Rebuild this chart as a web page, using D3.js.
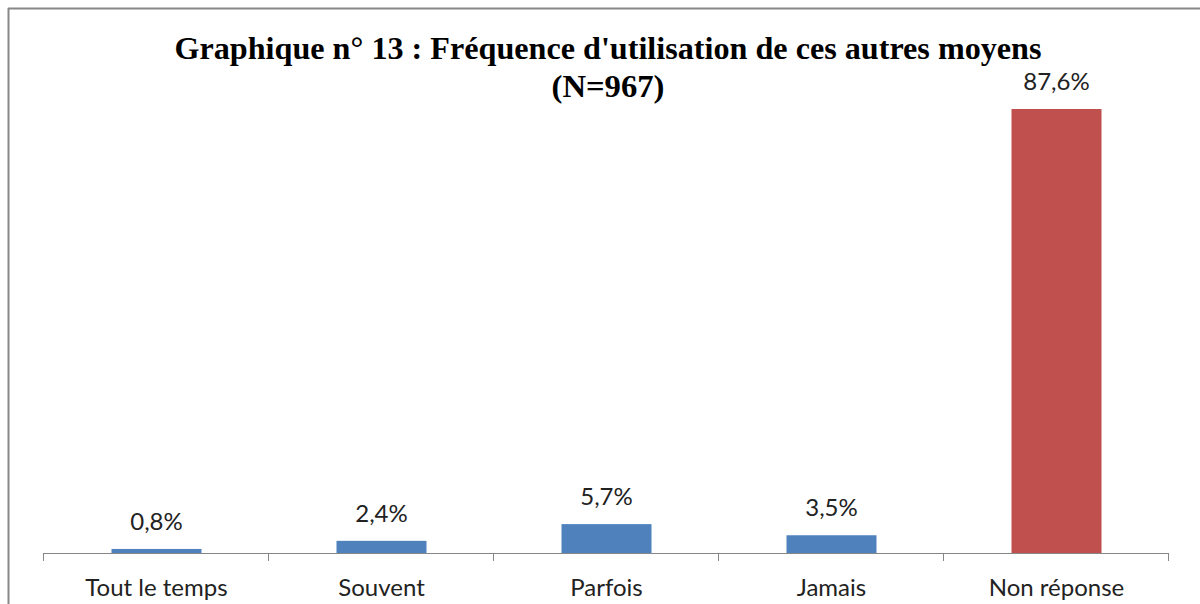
<!DOCTYPE html>
<html><head><meta charset="utf-8">
<script src="https://cdn.jsdelivr.net/npm/d3@7"></script>
<style>body{margin:0;background:#fff}svg{display:block}</style>
</head><body>
<script>
const categories = ["Tout le temps","Souvent","Parfois","Jamais","Non réponse"];
const values = [0.8, 2.4, 5.7, 3.5, 87.6];
const valueLabels = ["0,8%","2,4%","5,7%","3,5%","87,6%"];
const barColors = ["#4F81BD","#4F81BD","#4F81BD","#4F81BD","#C0504D"];
const titleLines = ["Graphique n° 13 : Fréquence d'utilisation de ces autres moyens","(N=967)"];

const W=1200,H=604;
const svg=d3.select("body").append("svg").attr("width",W).attr("height",H);
svg.append("rect").attr("width",W).attr("height",H).attr("fill","#fff");
svg.append("line").attr("x1",8).attr("x2",W).attr("y1",8.5).attr("y2",8.5).attr("stroke","#888").attr("stroke-width",2);
svg.append("line").attr("x1",8.5).attr("x2",8.5).attr("y1",8).attr("y2",H).attr("stroke","#888").attr("stroke-width",2);

const x0=43,x1=1168,yBase=553;
const x=d3.scaleBand().domain(categories).range([x0,x1]).paddingInner(0.6).paddingOuter(0.3);
const y=d3.scaleLinear().domain([0,87.6]).range([yBase,109]);

svg.selectAll("rect.bar").data(categories).enter().append("rect")
  .attr("x",d=>x(d)+1).attr("width",x.bandwidth())
  .attr("y",(d,i)=>y(values[i])).attr("height",(d,i)=>yBase-y(values[i]))
  .attr("fill",(d,i)=>barColors[i]);

const g=svg.append("g").attr("transform",`translate(0,${yBase})`);
g.append("line").attr("x1",x0).attr("x2",x1).attr("y1",0.5).attr("y2",0.5).attr("stroke","#868686").attr("stroke-width",1);
const step=(x1-x0)/categories.length;
const tickPos=d3.range(categories.length+1).map(i=>x0+i*step);
g.selectAll("line.tick").data(tickPos).enter().append("line")
  .attr("x1",d=>Math.round(d)+0.5).attr("x2",d=>Math.round(d)+0.5).attr("y1",0).attr("y2",8)
  .attr("stroke","#868686");
g.selectAll("text.cat").data(categories).enter().append("text")
  .attr("x",d=>x(d)+x.bandwidth()/2+1).attr("y",43)
  .attr("text-anchor","middle").attr("font-family","Lato, 'Open Sans', sans-serif")
  .attr("font-size",24).attr("fill","#222").text(d=>d);

svg.selectAll("text.val").data(categories).enter().append("text")
  .attr("x",d=>x(d)+x.bandwidth()/2+1).attr("y",(d,i)=>y(values[i])-19)
  .attr("text-anchor","middle").attr("font-family","Lato, 'Open Sans', sans-serif")
  .attr("font-size",24).attr("fill","#222").text((d,i)=>valueLabels[i]);

svg.append("text").attr("x",608).attr("y",59).attr("text-anchor","middle")
  .attr("font-family","'Liberation Serif','Times New Roman',serif").attr("font-weight","bold")
  .attr("font-size",32).attr("textLength",867).attr("lengthAdjust","spacingAndGlyphs").text(titleLines[0]);
svg.append("text").attr("x",608).attr("y",97).attr("text-anchor","middle")
  .attr("font-family","'Liberation Serif','Times New Roman',serif").attr("font-weight","bold")
  .attr("font-size",32).attr("textLength",113).attr("lengthAdjust","spacingAndGlyphs").text(titleLines[1]);
</script>
</body></html>
